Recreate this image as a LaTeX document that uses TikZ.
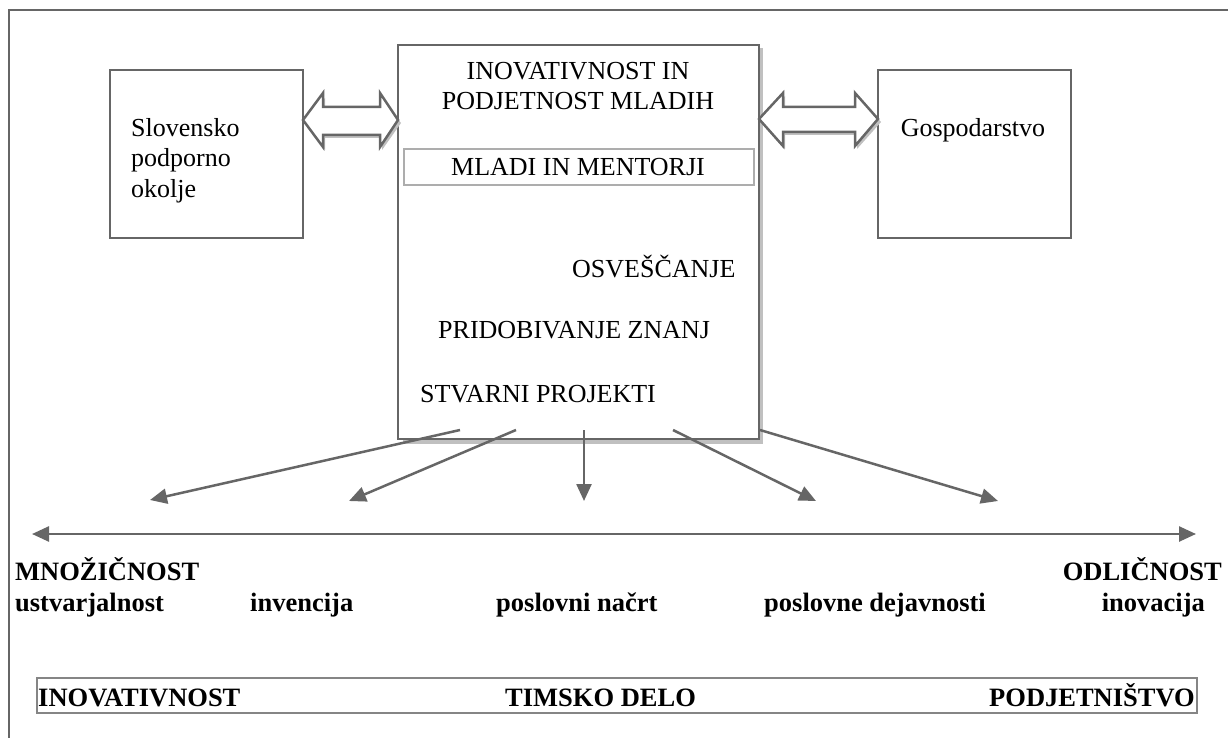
\documentclass[tikz,border=0pt]{standalone}
\usepackage{fontspec}
\setmainfont{Liberation Serif}
\usetikzlibrary{arrows.meta}
\definecolor{ln}{HTML}{666666}
\definecolor{shd}{HTML}{C0C0C0}
\tikzset{
  box/.style={draw=ln, line width=2.5pt, fill=white, inner sep=0pt},
  txt/.style={inner sep=0pt, font=\fontsize{26}{30}\selectfont},
  btxt/.style={inner sep=0pt, font=\fontsize{26.5}{31}\selectfont\bfseries},
  conn/.style={draw=ln, line width=2.5pt, -{Triangle[length=17pt,width=15pt]}},
  dbl/.style={draw=ln, line width=2.5pt, fill=white, line join=miter},
  dblshadow/.style={fill=shd},
}
\begin{document}
\begin{tikzpicture}[x=1pt,y=-1pt]
\useasboundingbox (0,0) rectangle (1228,738);
% outer frame (top and left visible)
\draw[ln, line width=2pt] (9,738) -- (9,10) -- (1230,10);

% boxes
\node[box, minimum width=193pt, minimum height=168pt] (sl) at (206.5,154) {};
\node[box, minimum width=193pt, minimum height=168pt] (go) at (974.5,154) {};
\fill[shd] (403,48) rectangle (763,444);
\node[box, minimum width=361pt, minimum height=394pt] (mid) at (578.5,242) {};
\node[draw=shd!90!black, line width=1.5pt, minimum width=350pt, minimum height=36pt, inner sep=0pt] (mm) at (579,167) {};

% double arrows
\fill[dblshadow] (305,123) -- (325,98) -- (325,110) -- (382,110) -- (382,98) -- (401,123) -- (382,150) -- (382,138) -- (325,138) -- (325,150) -- cycle;
\draw[dbl] (303,120) -- (323,93) -- (323,107) -- (380,107) -- (380,93) -- (398,120) -- (380,147) -- (380,135) -- (323,135) -- (323,147) -- cycle;
\fill[dblshadow] (761,122) -- (785,96) -- (785,110) -- (857,110) -- (857,96) -- (881,122) -- (857,149) -- (857,135) -- (785,135) -- (785,149) -- cycle;
\draw[dbl] (759,119) -- (783,93) -- (783,107) -- (855,107) -- (855,93) -- (878,119) -- (855,146) -- (855,132) -- (783,132) -- (783,146) -- cycle;

% texts in boxes
\node[txt, anchor=base west] (t1) at (131,137) {Slovensko};
\node[txt, anchor=base west] (t2) at (131,167) {podporno};
\node[txt, anchor=base west] (t3) at (131,197) {okolje};
\node[txt, anchor=base] (t4) at (973,137) {Gospodarstvo};
\node[txt, anchor=base] (t5) at (578,80) {INOVATIVNOST IN};
\node[txt, anchor=base] (t6) at (578,110) {PODJETNOST MLADIH};
\node[txt, anchor=base] (t7) at (578,176) {MLADI IN MENTORJI};
\node[txt, anchor=base west] (t8) at (572,277) {OSVEŠČANJE};
\node[txt, anchor=base west] (t9) at (438,338) {PRIDOBIVANJE ZNANJ};
\node[txt, anchor=base west] (t10) at (420,402) {STVARNI PROJEKTI};

% arrow coordinates
\coordinate (s1) at (460,430); \coordinate (e1) at (150,500);
\coordinate (s2) at (516,430); \coordinate (e2) at (349,501);
\coordinate (s3) at (584,430); \coordinate (e3) at (584,501);
\coordinate (s4) at (673,430); \coordinate (e4) at (816,501);
\coordinate (s5) at (760,430); \coordinate (e5) at (998,501);
\draw[conn] (s1) -- (e1);
\draw[conn] (s2) -- (e2);
\draw[conn] (s3) -- (e3);
\draw[conn] (s4) -- (e4);
\draw[conn] (s5) -- (e5);

% axis
\coordinate (al) at (32,534); \coordinate (ar) at (1196,534);
\draw[draw=ln, line width=2.5pt, {Triangle[length=17pt,width=15pt]}-{Triangle[length=17pt,width=15pt]}] (al) -- (ar);

% bold labels
\node[btxt, anchor=base west] (b1) at (15,580) {MNOŽIČNOST};
\node[btxt, anchor=base west] (b2) at (15,611) {ustvarjalnost};
\node[btxt, anchor=base west] (b3) at (250,611) {invencija};
\node[btxt, anchor=base west] (b4) at (496,611) {poslovni načrt};
\node[btxt, anchor=base west] (b5) at (764,611) {poslovne dejavnosti};
\node[btxt, anchor=base east] (b6) at (1222,580) {ODLIČNOST};
\node[btxt, anchor=base east] (b7) at (1205,611) {inovacija};

% bottom band
\node[draw=ln!80!white, line width=1.2pt, minimum width=1160pt, minimum height=35pt, inner sep=0pt] (band) at (617,695.5) {};
\node[btxt, anchor=base west] (c1) at (38,706) {INOVATIVNOST};
\node[btxt, anchor=base west] (c2) at (505,706) {TIMSKO DELO};
\node[btxt, anchor=base east] (c3) at (1195,706) {PODJETNIŠTVO};
\end{tikzpicture}
\end{document}
